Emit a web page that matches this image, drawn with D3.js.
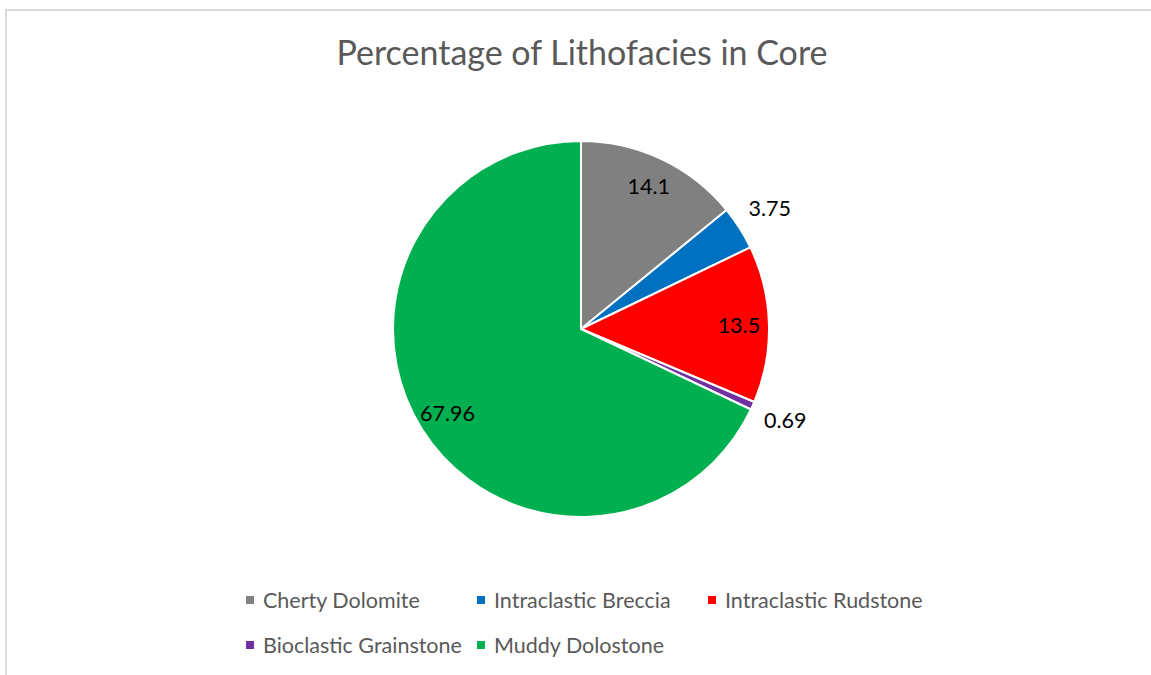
<!DOCTYPE html>
<html>
<head>
<meta charset="utf-8">
<script src="https://cdn.jsdelivr.net/npm/d3@7"></script>
<style>
  body { margin: 0; background: #fff; }
  text { font-family: Lato, "Open Sans", sans-serif; }
</style>
</head>
<body>
<div id="chart"></div>
<script>
// chart data
var categories = ['Cherty Dolomite', 'Intraclastic Breccia', 'Intraclastic Rudstone', 'Bioclastic Grainstone', 'Muddy Dolostone']
var values = [14.1, 3.75, 13.5, 0.69, 67.96]
var labels = ['14.1', '3.75', '13.5', '0.69', '67.96']
var colors = ['#808080', '#0070C0', '#FF0000', '#7030A0', '#00B050']

var width = 1151
var height = 675
var cx = 581, cy = 329
var radius = 188

var svg = d3.select('#chart').append('svg')
    .attr('width', width)
    .attr('height', height)

// frame (only top and left edges visible in the source)
svg.append('path')
    .attr('d', 'M6,675 V10 H1151')
    .attr('fill', 'none')
    .attr('stroke', '#d9d9d9')
    .attr('stroke-width', 2)

svg.append('text')
    .attr('x', 582)
    .attr('y', 65)
    .attr('text-anchor', 'middle')
    .attr('font-size', 34)
    .attr('fill', '#595959')
    .text('Percentage of Lithofacies in Core')

var data = categories.map(function (c, i) {
    return { name: c, value: values[i], label: labels[i], color: colors[i] }
})

var pie = d3.pie().sort(null).value(function (d) { return d.value })
var arcs = pie(data)

var arc = d3.arc().innerRadius(0).outerRadius(radius)
var inLabel = d3.arc().innerRadius(radius * 0.84).outerRadius(radius * 0.84)
var outLabel = d3.arc().innerRadius(radius * 1.19).outerRadius(radius * 1.19)

var g = svg.append('g').attr('transform', 'translate(' + cx + ',' + cy + ')')

g.selectAll('path.slice')
    .data(arcs)
    .join('path')
    .attr('class', 'slice')
    .attr('d', arc)
    .attr('fill', function (d) { return d.data.color })
    .attr('stroke', '#fff')
    .attr('stroke-width', 2)
    .attr('stroke-linejoin', 'round')

g.selectAll('text.lbl')
    .data(arcs)
    .join('text')
    .attr('class', 'lbl')
    .attr('transform', function (d) {
        var small = d.data.value < 5
        var p = small ? outLabel.centroid(d) : inLabel.centroid(d)
        return 'translate(' + p[0] + ',' + p[1] + ')'
    })
    .attr('dy', '0.35em')
    .attr('text-anchor', 'middle')
    .attr('font-size', 21.5)
    .attr('fill', '#000')
    .text(function (d) { return d.data.label })

// legend, two rows
var legendPos = [[246, 600], [477, 600], [708, 600], [246, 645], [477, 645]]
var legend = svg.append('g')
    .selectAll('g')
    .data(data)
    .join('g')
    .attr('transform', function (d, i) { return 'translate(' + legendPos[i][0] + ',' + legendPos[i][1] + ')' })

legend.append('rect')
    .attr('x', 0)
    .attr('y', -4)
    .attr('width', 8)
    .attr('height', 8)
    .attr('fill', function (d) { return d.color })

legend.append('text')
    .attr('x', 17)
    .attr('dy', '0.35em')
    .attr('font-size', 21.5)
    .attr('fill', '#595959')
    .text(function (d) { return d.name })
</script>
</body>
</html>
